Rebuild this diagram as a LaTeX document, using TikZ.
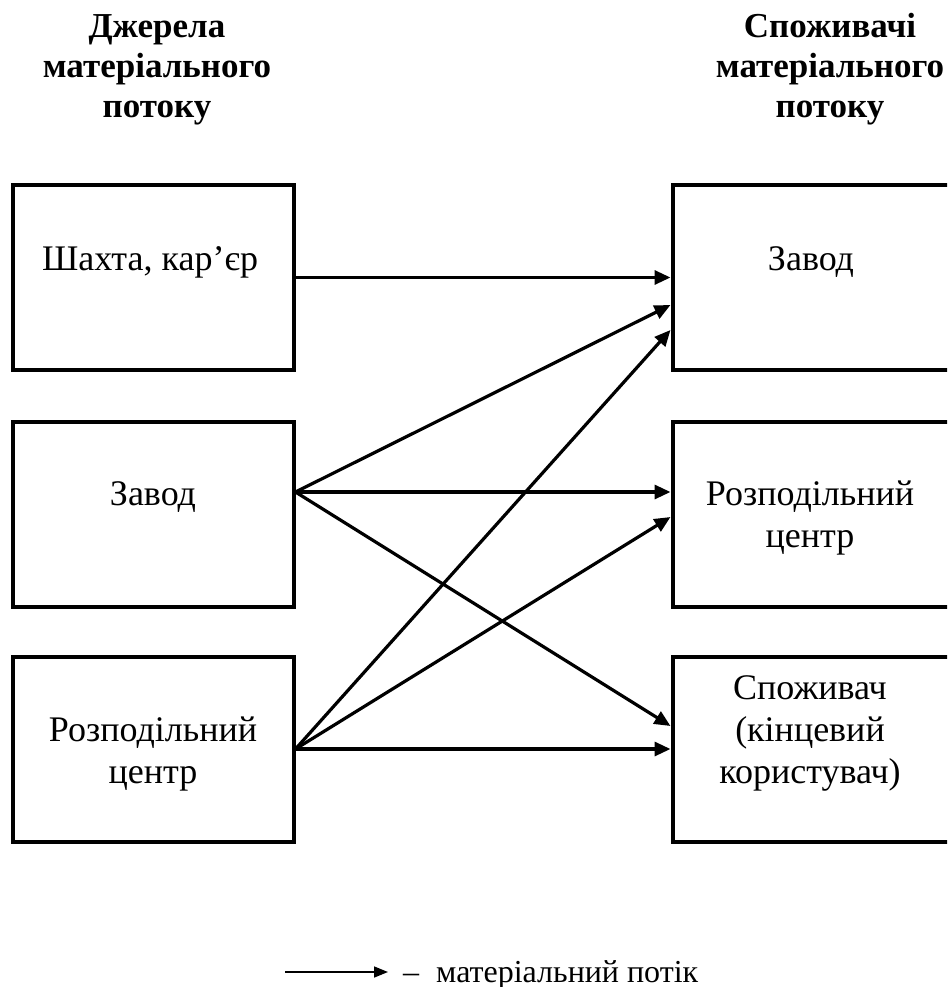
\documentclass[tikz,border=0pt]{standalone}
\usepackage{fontspec}
\setmainfont{Liberation Serif}
\usetikzlibrary{arrows.meta}

\begin{document}
\begin{tikzpicture}[x=1pt,y=-1pt,
  box/.style={draw, line width=4pt, minimum width=281pt, minimum height=185pt, inner sep=0pt},
  flow/.style={line width=3.2pt, -{Triangle[length=16pt,width=14pt]}},
  lbl/.style={font=\fontsize{36}{42}\selectfont, align=center, anchor=base, inner sep=0pt},
  head/.style={font=\fontsize{35}{40}\selectfont\bfseries, align=center, anchor=base, inner sep=0pt},
  legendtext/.style={font=\fontsize{32}{38}\selectfont, anchor=base west, inner sep=0pt}]

\path[use as bounding box, clip] (0,0) rectangle (947,987);

% column headings (anchored at the baseline of the last line)
\node[head] (hsrc) at (157,118) {Джерела\\матеріального\\потоку};
\node[head] (hdst) at (830,118) {Споживачі\\матеріального\\потоку};

% sources
\node[box] (s1) at (153,277.5) {};
\node[box] (s2) at (153,514) {};
\node[box] (s3) at (153,749) {};
% consumers
\node[box] (d1) at (813,277.5) {};
\node[box] (d2) at (813,514) {};
\node[box] (d3) at (813,749) {};

% box captions
\node[lbl] (ts1) at (150,270) {Шахта, кар’єр};
\node[lbl] (ts2) at (153,505) {Завод};
\node[lbl] (ts3) at (153,783) {Розподільний\\центр};
\node[lbl] (td1) at (811,270) {Завод};
\node[lbl] (td2) at (810,547) {Розподільний\\центр};
\node[lbl] (td3) at (810,783) {Споживач\\(кінцевий\\користувач)};

% material flows
\draw[flow] (s1.east) -- (d1.west);
\draw[flow] ([yshift=22pt]s2.east) -- ([yshift=-27.5pt]d1.west);
\draw[flow] ([yshift=22pt]s2.east) -- ([yshift=22pt]d2.west);
\draw[flow] ([yshift=22pt]s2.east) -- ([yshift=23pt]d3.west);
\draw[flow] (s3.east) -- ([yshift=-52.5pt]d1.west);
\draw[flow] (s3.east) -- ([yshift=-3pt]d2.west);
\draw[flow] (s3.east) -- (d3.west);

% legend
\coordinate (la) at (285,972);
\coordinate (lb) at (388,972);
\draw[line width=1.6pt, -{Triangle[length=14pt,width=11pt]}] (la) -- (lb);
\node[legendtext] (leg) at (403,982) {–\hspace{17pt}матеріальний потік};
\end{tikzpicture}
\end{document}
